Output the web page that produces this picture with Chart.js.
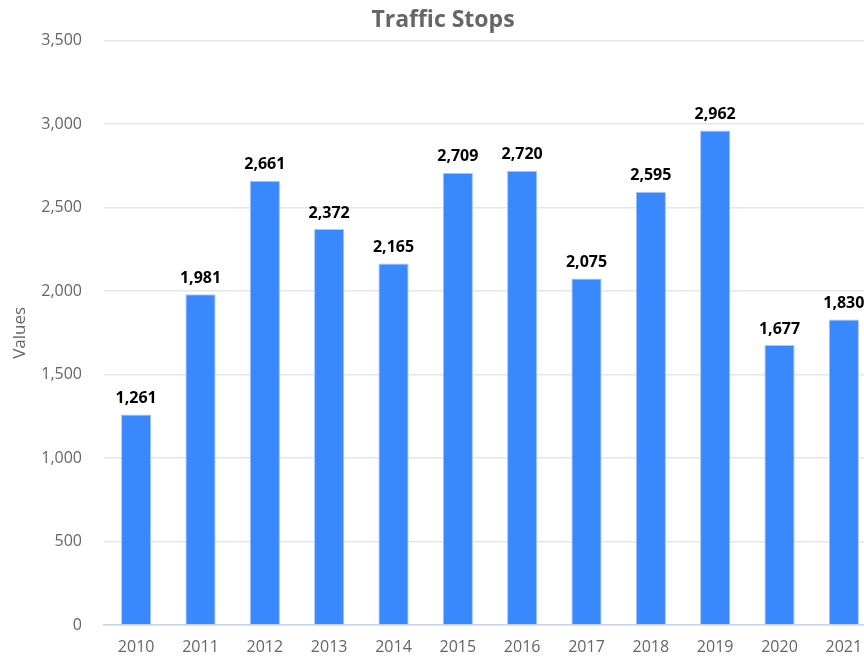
<!DOCTYPE html>
<html lang="en">
<head>
    <meta charset="UTF-8">
    <title>Traffic Stops</title>
    <script src="https://cdn.jsdelivr.net/npm/chart.js"></script>
    <style>
        body { margin: 0; overflow: hidden; background: #fff; }
    </style>
</head>
<body>
    <canvas id="stopsChart" width="878" height="658"></canvas>

    <script>
        // Yearly traffic stop counts
        const years = ['2010', '2011', '2012', '2013', '2014', '2015', '2016', '2017', '2018', '2019', '2020', '2021'];
        const stops = [1261, 1981, 2661, 2372, 2165, 2709, 2720, 2075, 2595, 2962, 1677, 1830];

        const fontFamily = '"Open Sans", "Noto Sans", sans-serif';

        // Draws the count above each bar
        const valueLabels = {
            id: 'valueLabels',
            afterDatasetsDraw(chart) {
                const ctx = chart.ctx;
                const meta = chart.getDatasetMeta(0);
                ctx.save();
                ctx.font = 'bold 16px ' + fontFamily;
                ctx.fillStyle = '#000';
                ctx.textAlign = 'center';
                ctx.textBaseline = 'bottom';
                meta.data.forEach((bar, i) => {
                    ctx.fillText(stops[i].toLocaleString('en-US'), bar.x, bar.y - 8);
                });
                ctx.restore();
            }
        };

        const ctx = document.getElementById('stopsChart').getContext('2d');
        const stopsChart = new Chart(ctx, {
            type: 'bar',
            data: {
                labels: years,
                datasets: [{
                    label: 'Traffic Stops',
                    data: stops,
                    backgroundColor: '#3a88fe',
                    borderColor: '#a9c8fb',
                    borderWidth: 1,
                    barPercentage: 0.47,
                    categoryPercentage: 1
                }]
            },
            options: {
                responsive: false,
                animation: false,
                layout: { padding: { left: 10, right: 2, top: 0, bottom: 0 } },
                plugins: {
                    legend: { display: false },
                    tooltip: { enabled: false },
                    title: {
                        display: true,
                        text: 'Traffic Stops',
                        color: '#666',
                        font: { family: fontFamily, size: 23, weight: 'bold' },
                        padding: { top: 7, bottom: 6 }
                    }
                },
                scales: {
                    x: {
                        grid: { display: false, drawTicks: false },
                        border: { color: '#cdd3e8', width: 1.5 },
                        ticks: {
                            color: '#666',
                            font: { family: fontFamily, size: 16 },
                            padding: 13
                        },
                        afterFit: scale => { scale.height = 33; }
                    },
                    y: {
                        min: 0,
                        max: 3500,
                        border: { display: false },
                        grid: { color: '#e6e6e6', lineWidth: 1.5, drawTicks: false },
                        ticks: {
                            stepSize: 500,
                            color: '#666',
                            padding: 22,
                            font: { family: fontFamily, size: 16 },
                            callback: v => v.toLocaleString('en-US')
                        },
                        title: {
                            display: true,
                            text: 'Values',
                            color: '#666',
                            font: { family: fontFamily, size: 17 },
                            padding: 0
                        },
                        afterFit: scale => { scale.width = 94; }
                    }
                }
            },
            plugins: [valueLabels]
        });
    </script>
</body>
</html>
